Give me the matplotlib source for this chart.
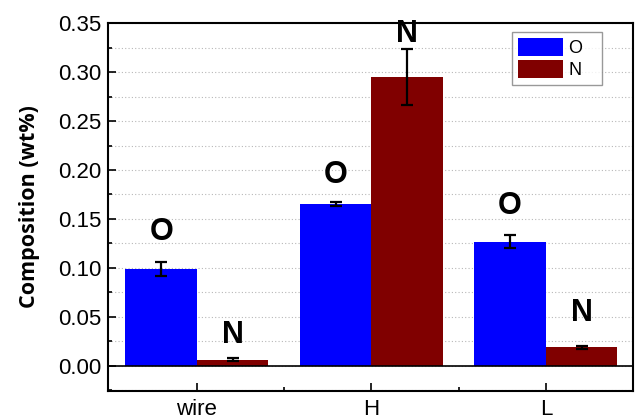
import numpy as np
import matplotlib
matplotlib.use('Agg')
import matplotlib.pyplot as plt
from matplotlib.ticker import MultipleLocator, FixedLocator, FormatStrFormatter

plt.rcParams['font.family'] = ['Liberation Sans', 'DejaVu Sans']

samples = ['wire', 'H', 'L']
oxygen = [0.099, 0.165, 0.127]
oxygen_err = [0.0070, 0.0020, 0.0068]
nitrogen = [0.0065, 0.295, 0.019]
nitrogen_err = [0.0012, 0.029, 0.0012]
# heights of the "O" / "N" letters written over the bars
o_label_y = [0.137, 0.195, 0.163]
n_label_y = [0.032, 0.339, 0.054]

x = np.arange(1, len(samples) + 1)
w = 0.41

fig = plt.figure(figsize=(6.35, 4.19), dpi=100)
ax = fig.add_axes([0.170, 0.067, 0.827, 0.878])

ax.yaxis.grid(True, which='both', linestyle=(0, (1, 2)), color='#b8b8b8', linewidth=0.8)
ax.set_axisbelow(True)

ax.bar(x - w/2, oxygen, w, color='#0000ff', label='O', zorder=2)
ax.bar(x + w/2, nitrogen, w, color='#800000', label='N', zorder=2)
ax.errorbar(x - w/2, oxygen, yerr=oxygen_err, fmt='none', ecolor='black',
            elinewidth=1.6, capsize=4, capthick=1.6, zorder=3)
ax.errorbar(x + w/2, nitrogen, yerr=nitrogen_err, fmt='none', ecolor='black',
            elinewidth=1.6, capsize=4, capthick=1.6, zorder=3)
ax.axhline(0, color='black', linewidth=1.2, zorder=3)

for xi, ly in zip(x, o_label_y):
    ax.text(xi - w/2, ly, 'O', ha='center', va='center',
            fontsize=22, fontweight='bold', zorder=4)
for xi, ly in zip(x, n_label_y):
    ax.text(xi + w/2, ly, 'N', ha='center', va='center',
            fontsize=22, fontweight='bold', zorder=4, clip_on=False)

ax.set_xlim(0.49, 3.5)
ax.set_ylim(-0.0255, 0.35)
ax.set_xticks(x)
ax.set_xticklabels(samples)
ax.xaxis.set_minor_locator(FixedLocator([1.5, 2.5]))
ax.yaxis.set_major_locator(MultipleLocator(0.05))
ax.yaxis.set_minor_locator(MultipleLocator(0.025))
ax.yaxis.set_major_formatter(FormatStrFormatter('%.2f'))
ax.tick_params(which='both', direction='in', labelsize=16, width=1.2)
ax.tick_params(which='major', length=6)
ax.tick_params(which='minor', length=3)
ax.tick_params(axis='x', pad=6)
ax.tick_params(axis='y', pad=5)
for s in ax.spines.values():
    s.set_linewidth(1.5)

ax.set_ylabel('Composition (wt%)', fontsize=15.5, fontweight='bold',
              family=['Open Sans', 'DejaVu Sans'])
ax.yaxis.set_label_coords(-0.13, 0.5)

# legend box stretched to the reference width, entries left aligned
leg = ax.legend(loc='upper left', bbox_to_anchor=(0.7695, 0.0, 0.1714, 0.9755),
                mode='expand', fontsize=13, fancybox=False, edgecolor='#808080',
                handlelength=2.45, handleheight=1.1, handletextpad=0.3,
                borderpad=0.35, labelspacing=0.17, borderaxespad=0)
leg.get_frame().set_linewidth(1.0)

fig.savefig('out.png', dpi=100)
